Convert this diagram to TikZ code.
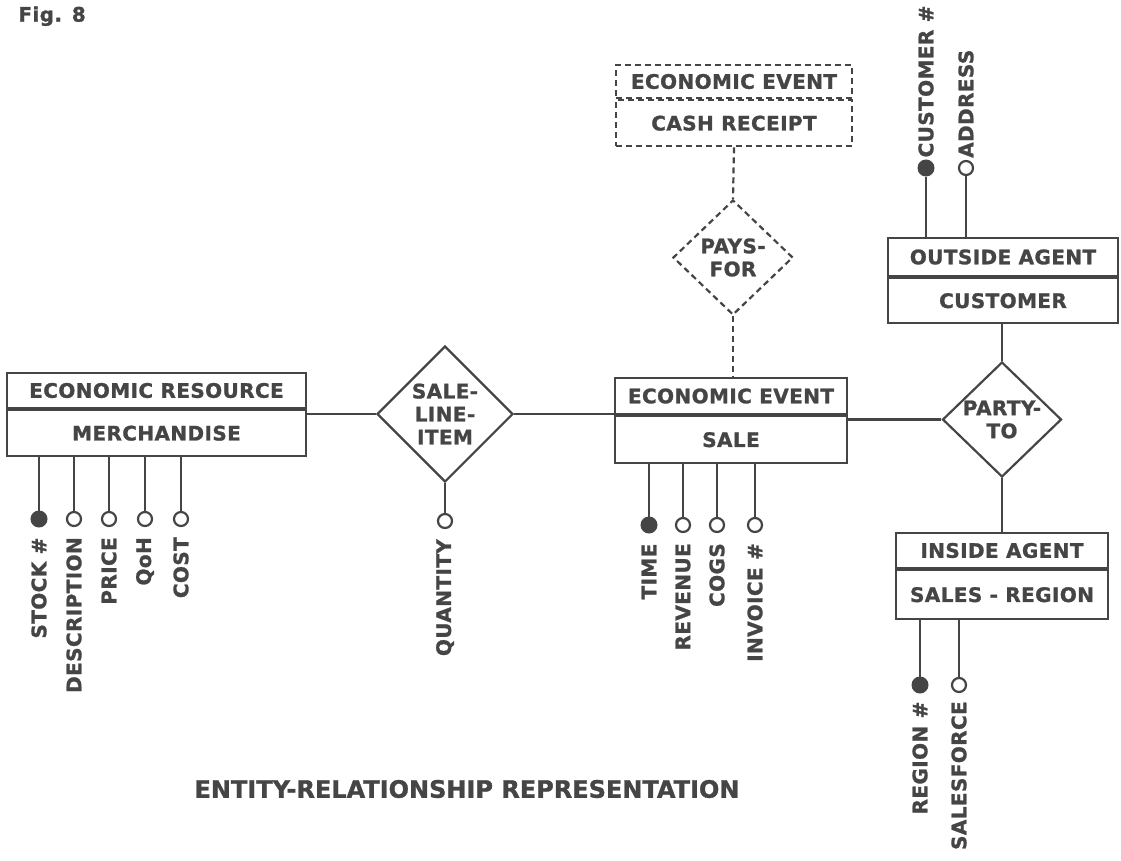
\documentclass[tikz,border=0pt]{standalone}
\usepackage{fontspec}
\newfontfamily\erfont{DejaVu Sans}[LetterSpace=2, BoldFeatures={FakeBold=1.2}]
\newfontfamily\titlefont{DejaVu Sans}[BoldFeatures={FakeBold=1.2}]
\usetikzlibrary{shapes.geometric}
\definecolor{ink}{HTML}{454545}

\tikzset{
  lab/.style={font=\erfont\bfseries\fontsize{20}{23}\selectfont, text=ink},
  efield/.style={lab, draw=ink, rectangle, inner sep=0pt, align=center},
  rel/.style={lab, draw=ink, diamond, inner sep=-14pt, align=center},
  weak/.style={dash pattern=on 6pt off 4pt},
  keyattr/.style={circle, draw=ink, fill=ink, line width=1pt, minimum size=16pt, inner sep=0pt},
  attr/.style={circle, draw=ink, fill=white, minimum size=14pt, inner sep=0pt},
  alab/.style={lab, rotate=90, inner sep=0pt},
}

\begin{document}
\begin{tikzpicture}[x=1pt, y=-1pt, line width=2.2pt, draw=ink, line join=miter]
\useasboundingbox (0,0) rectangle (1121,860);

% caption of the figure
\node[lab, anchor=north west] (fig) at (14,2) {Fig. 8};

% entity: merchandise
\node[efield, minimum width=299, minimum height=35] (mer-t) at (156.5,390.5) {ECONOMIC RESOURCE};
\node[efield, minimum width=299, minimum height=46, anchor=north] (mer-b) at (mer-t.south) {MERCHANDISE};

% entity: sale
\node[efield, minimum width=232, minimum height=36] (sale-t) at (731,396) {ECONOMIC EVENT};
\node[efield, minimum width=232, minimum height=47, anchor=north] (sale-b) at (sale-t.south) {SALE};

% entity: cash receipt (dashed)
\node[efield, weak, minimum width=236, minimum height=33] (cash-t) at (734,81.5) {ECONOMIC EVENT};
\node[efield, weak, minimum width=236, minimum height=46, anchor=north] (cash-b) at (cash-t.south) {CASH RECEIPT};

% entity: customer
\node[efield, minimum width=230, minimum height=38] (cust-t) at (1003,257) {OUTSIDE AGENT};
\node[efield, minimum width=230, minimum height=45, anchor=north] (cust-b) at (cust-t.south) {CUSTOMER};

% entity: sales region
\node[efield, minimum width=212, minimum height=35] (reg-t) at (1002,550.5) {INSIDE AGENT};
\node[efield, minimum width=212, minimum height=49, anchor=north] (reg-b) at (reg-t.south) {SALES - REGION};

% relationships
\node[rel, minimum width=136, minimum height=136] (sli) at (445,414) {SALE-\\LINE-\\ITEM};
\node[rel, weak, minimum width=120, minimum height=115] (pays) at (733,257.5) {PAYS-\\FOR};
\node[rel, minimum width=119, minimum height=115] (party) at (1002,419.5) {PARTY-\\TO};

% connectors between entities and relationships
\draw (sli.west) -- (sli.west -| mer-b.east);
\draw (sli.east) -- (sli.east -| sale-b.west);
\draw (party.west) -- (party.west -| sale-b.east);
\draw (party.north) -- (party.north |- cust-b.south);
\draw (party.south) -- (party.south |- reg-t.north);
\draw[weak] (cash-b.south) -- (pays.north);
\draw[weak] (pays.south) -- (pays.south |- sale-t.north);

% attributes of merchandise
\node[keyattr] (stock) at (39,519) {};
\node[attr] (descr) at (74,519) {};
\node[attr] (price) at (109,519) {};
\node[attr] (qoh) at (145,519) {};
\node[attr] (cost) at (181,519) {};
\foreach \a in {stock,descr,price,qoh,cost}
  \draw (mer-b.south -| \a) -- (\a);
\node[alab, anchor=east] (l-stock) at ([yshift=-9pt]stock.south) {STOCK \#};
\node[alab, anchor=east] (l-descr) at ([yshift=-9pt]descr.south) {DESCRIPTION};
\node[alab, anchor=east] (l-price) at ([yshift=-9pt]price.south) {PRICE};
\node[alab, anchor=east] (l-qoh) at ([yshift=-9pt]qoh.south) {QoH};
\node[alab, anchor=east] (l-cost) at ([yshift=-9pt]cost.south) {COST};

% attribute of the sale line item
\node[attr] (qty) at (445,521) {};
\draw (sli.south) -- (qty);
\node[alab, anchor=east] (l-qty) at ([yshift=-9pt]qty.south) {QUANTITY};

% attributes of sale
\node[keyattr] (time) at (649,525) {};
\node[attr] (rev) at (683,525) {};
\node[attr] (cogs) at (717,525) {};
\node[attr] (inv) at (755,525) {};
\foreach \a in {time,rev,cogs,inv}
  \draw (sale-b.south -| \a) -- (\a);
\node[alab, anchor=east] (l-time) at ([yshift=-9pt]time.south) {TIME};
\node[alab, anchor=east] (l-rev) at ([yshift=-9pt]rev.south) {REVENUE};
\node[alab, anchor=east] (l-cogs) at ([yshift=-9pt]cogs.south) {COGS};
\node[alab, anchor=east] (l-inv) at ([yshift=-9pt]inv.south) {INVOICE \#};

% attributes of customer
\node[keyattr] (custno) at (926,168) {};
\node[attr] (addr) at (966,168) {};
\foreach \a in {custno,addr}
  \draw (cust-t.north -| \a) -- (\a);
\node[alab, anchor=west] (l-custno) at ([yshift=1pt]custno.north) {CUSTOMER \#};
\node[alab, anchor=west] (l-addr) at ([yshift=1pt]addr.north) {ADDRESS};

% attributes of sales region
\node[keyattr] (regno) at (920,685) {};
\node[attr] (force) at (959,685) {};
\foreach \a in {regno,force}
  \draw (reg-b.south -| \a) -- (\a);
\node[alab, anchor=east] (l-regno) at ([yshift=-7pt]regno.south) {REGION \#};
\node[alab, anchor=east] (l-force) at ([yshift=-7pt]force.south) {SALESFORCE};

% title
\node[font=\titlefont\bfseries\fontsize{24}{28}\selectfont, text=ink] (title) at (467,789) {ENTITY-RELATIONSHIP REPRESENTATION};
\end{tikzpicture}
\end{document}
